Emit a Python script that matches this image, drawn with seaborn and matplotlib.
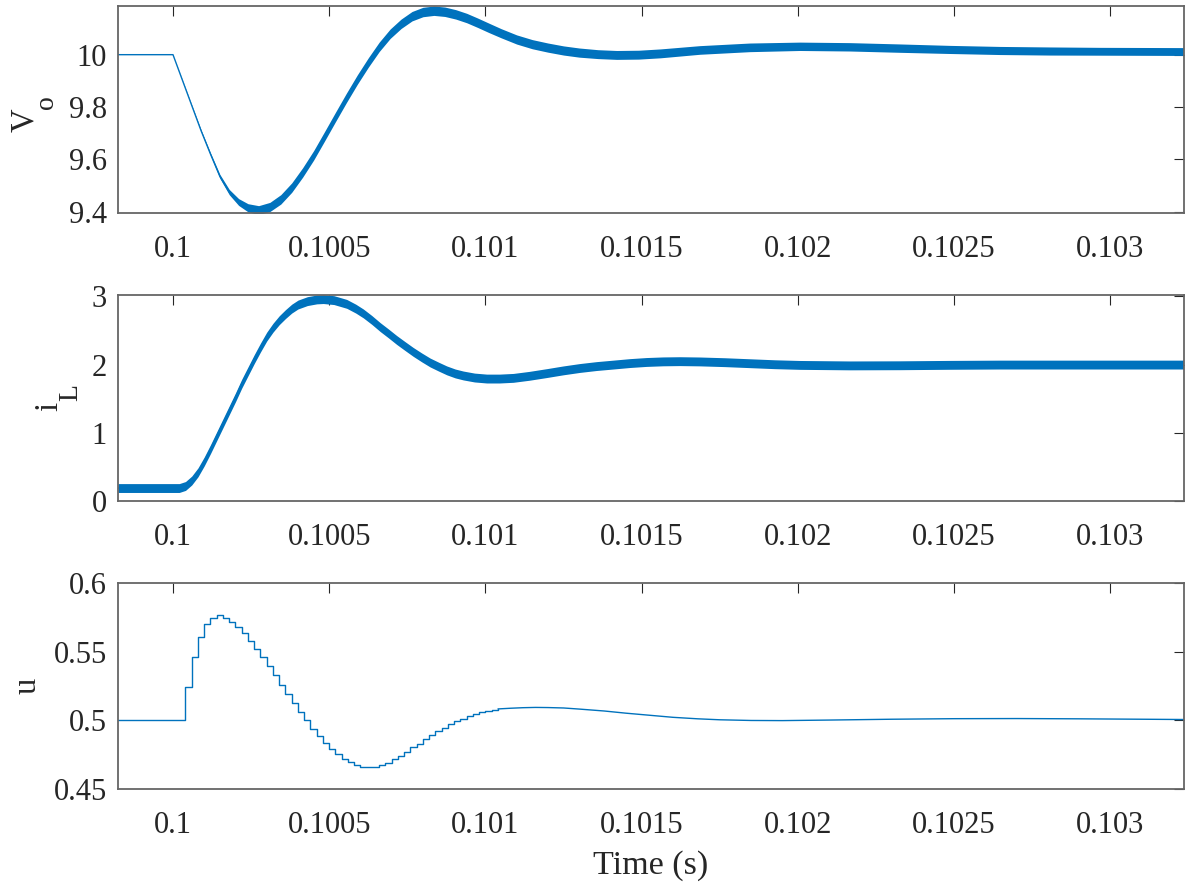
import numpy as np
import seaborn as sns
import matplotlib.pyplot as plt

BLUE = "#0072BD"
INK = "#262626"
FRAME = "#666666"

## output voltage: band centre and ripple height (peak to peak)
t_vo = [0.099824, 0.1, 0.10003, 0.10006, 0.10009, 0.10012, 0.10015, 0.10018,
        0.10021, 0.10024, 0.100274, 0.10031, 0.100345, 0.10038, 0.100415, 0.10045,
        0.100485, 0.10052, 0.100555, 0.10059, 0.100625, 0.10066, 0.100695, 0.10073,
        0.100765, 0.1008, 0.100835, 0.10087, 0.100905, 0.10094, 0.100975, 0.10101,
        0.10105, 0.1011, 0.10115, 0.1012, 0.10125, 0.1013, 0.10136, 0.10142,
        0.10149, 0.10156, 0.101686, 0.101846, 0.102006, 0.102166, 0.102326, 0.102486,
        0.102646, 0.102806, 0.102966, 0.103234]
vo_mid = [10.0, 10.0, 9.903, 9.806, 9.709, 9.62, 9.535, 9.475,
          9.437, 9.415, 9.406, 9.418, 9.447, 9.492, 9.55, 9.615,
          9.688, 9.762, 9.835, 9.905, 9.97, 10.03, 10.08, 10.118,
          10.147, 10.163, 10.168, 10.164, 10.154, 10.14, 10.122, 10.103,
          10.082, 10.058, 10.04, 10.027, 10.016, 10.008, 10.002, 9.999,
          10.0, 10.005, 10.018, 10.028, 10.032, 10.03, 10.025, 10.02,
          10.016, 10.014, 10.013, 10.012]
vo_rip = [0.0, 0.0, 0.002, 0.004, 0.007, 0.01, 0.015, 0.02,
          0.026, 0.031, 0.034, 0.035, 0.036, 0.036, 0.036, 0.036,
          0.036, 0.036, 0.036, 0.036, 0.036, 0.036, 0.036, 0.036,
          0.036, 0.036, 0.036, 0.036, 0.036, 0.036, 0.036, 0.036,
          0.035, 0.035, 0.035, 0.035, 0.035, 0.035, 0.034, 0.034,
          0.034, 0.034, 0.033, 0.033, 0.032, 0.032, 0.032, 0.031,
          0.031, 0.031, 0.03, 0.03]

## inductor current
t_il = [0.099824, 0.10002, 0.10004, 0.10006, 0.10008, 0.1001, 0.10012, 0.10014,
        0.10016, 0.10018, 0.1002, 0.10022, 0.10024, 0.10026, 0.10028, 0.1003,
        0.10032, 0.10034, 0.10036, 0.10038, 0.1004, 0.10043, 0.10046, 0.100481,
        0.100515, 0.100556, 0.100585, 0.100609, 0.100636, 0.100663, 0.10069, 0.100716,
        0.100743, 0.100769, 0.100796, 0.100823, 0.10085, 0.100876, 0.100903, 0.100929,
        0.100965, 0.101004, 0.101045, 0.101089, 0.10114, 0.101196, 0.101249, 0.101302,
        0.101355, 0.101409, 0.101462, 0.101515, 0.101568, 0.101622, 0.101686, 0.101766,
        0.101846, 0.101926, 0.102006, 0.102166, 0.102326, 0.102486, 0.102646, 0.102966,
        0.103234]
il_mid = [0.19, 0.19, 0.22, 0.3, 0.42, 0.58, 0.76, 0.95,
          1.14, 1.33, 1.52, 1.72, 1.9, 2.08, 2.25, 2.41,
          2.54, 2.65, 2.74, 2.82, 2.88, 2.93, 2.955, 2.96,
          2.945, 2.89, 2.82, 2.75, 2.655, 2.55, 2.455, 2.36,
          2.27, 2.185, 2.105, 2.03, 1.97, 1.915, 1.87, 1.84,
          1.81, 1.795, 1.795, 1.805, 1.835, 1.875, 1.915, 1.95,
          1.978, 2.0, 2.022, 2.038, 2.047, 2.05, 2.046, 2.035,
          2.02, 2.005, 1.995, 1.988, 1.99, 1.996, 2.0, 2.0,
          2.0]
il_rip = [0.13] * len(t_il)

## duty cycle, held over 20 us control periods
u_t0 = 0.10004
u_ts = 20e-6
u_steps = [0.5246, 0.5462, 0.5609, 0.5703, 0.5747, 0.5764, 0.5747, 0.5718, 0.5682, 0.5634,
           0.5578, 0.5523, 0.5458, 0.5393, 0.5328, 0.5260, 0.5193, 0.5128, 0.5063, 0.5000,
           0.4940, 0.4887, 0.4836, 0.4793, 0.4754, 0.4721, 0.4697, 0.4677, 0.4663, 0.4660,
           0.4663, 0.4675, 0.4692, 0.4718, 0.4742, 0.4771, 0.4803, 0.4831, 0.4863, 0.4892,
           0.4923, 0.4947, 0.4971, 0.4993, 0.5012, 0.5029, 0.5043, 0.5058, 0.5067, 0.5077]
t_tail = [0.10104, 0.10108, 0.10112, 0.10116, 0.1012, 0.10125, 0.1013, 0.10138, 0.10145,
          0.10153, 0.1016, 0.10168, 0.10175, 0.10185, 0.10195, 0.1021, 0.1023, 0.1025,
          0.1027, 0.1029, 0.1031, 0.103234]
u_tail = [0.5083, 0.5088, 0.5092, 0.5094, 0.5093, 0.5090, 0.5082, 0.5068, 0.5052,
          0.5036, 0.5022, 0.5011, 0.5004, 0.4999, 0.4998, 0.5002, 0.5008, 0.5012,
          0.5013, 0.5011, 0.5008, 0.5006]

xlim = (0.099824, 0.103234)
xticks = [0.1, 0.1005, 0.101, 0.1015, 0.102, 0.1025, 0.103]
xlabels = ["0.1", "0.1005", "0.101", "0.1015", "0.102", "0.1025", "0.103"]

sns.set_style("white")
plt.rcParams["font.family"] = ["Liberation Serif", "DejaVu Serif"]

W, H = 1185, 886
fig = plt.figure(figsize=(W / 100, H / 100), dpi=100)


def add_ax(top, bottom):
    return fig.add_axes([118 / W, 1 - bottom / H, (1183.5 - 118) / W, (bottom - top) / H])


ax1 = add_ax(6, 213)
ax2 = add_ax(295, 501)
ax3 = add_ax(583, 789)

# V_o
lo = np.array(vo_mid) - np.array(vo_rip) / 2
hi = np.array(vo_mid) + np.array(vo_rip) / 2
ax1.fill_between(t_vo, lo, hi, color=BLUE, lw=0)
sns.lineplot(x=t_vo, y=vo_mid, ax=ax1, color=BLUE, lw=1.0)

# i_L
lo = np.array(il_mid) - np.array(il_rip) / 2
hi = np.array(il_mid) + np.array(il_rip) / 2
ax2.fill_between(t_il, lo, hi, color=BLUE, lw=0)
sns.lineplot(x=t_il, y=il_mid, ax=ax2, color=BLUE, lw=1.0)

# u
t_step = [xlim[0]] + [u_t0 + k * u_ts for k in range(len(u_steps))] + [t_tail[0]]
u_step = [0.5] + u_steps + [u_tail[0]]
sns.lineplot(x=t_step, y=u_step, ax=ax3, color=BLUE, lw=1.0, drawstyle="steps-post")
sns.lineplot(x=t_tail, y=u_tail, ax=ax3, color=BLUE, lw=1.0)

ax1.set_ylim(9.395, 10.186)
ax1.set_yticks([9.4, 9.6, 9.8, 10])
ax1.set_yticklabels(["9.4", "9.6", "9.8", "10"])
ax2.set_ylim(0, 3.02)
ax2.set_yticks([0, 1, 2, 3])
ax2.set_yticklabels(["0", "1", "2", "3"])
ax3.set_ylim(0.45, 0.6)
ax3.set_yticks([0.45, 0.5, 0.55, 0.6])
ax3.set_yticklabels(["0.45", "0.5", "0.55", "0.6"])

for ax in [ax1, ax2, ax3]:
    ax.set_xlim(*xlim)
    ax.set_xticks(xticks)
    ax.set_xticklabels(xlabels)
    ax.tick_params(direction="in", length=7, width=0.8, top=True, right=True,
                   labelsize=22, color=INK, labelcolor=INK)
    ax.tick_params(axis="x", pad=16)
    ax.tick_params(axis="y", pad=8)
    for s in ax.spines.values():
        s.set_color(FRAME)
        s.set_linewidth(1.3)
    ax.set_xlabel("")
    ax.set_ylabel("")


# y labels with the large, deep subscripts of the original (MATLAB tex style)
def vtext(x_px, y_px, s, size):
    fig.text(x_px / W, 1 - y_px / H, s, rotation=90, rotation_mode="anchor",
             ha="center", va="baseline", fontsize=size, color=INK)


vtext(33.5, 120, "V", 23.5)
vtext(53, 102, "o", 20)
vtext(57, 406, "i", 23.5)
vtext(77, 393, "L", 20)
vtext(35.5, 686, "u", 23.5)

ax3.set_xlabel("Time (s)", fontsize=24.5, color=INK, labelpad=7.5)

fig.savefig("out.png", dpi=100)
